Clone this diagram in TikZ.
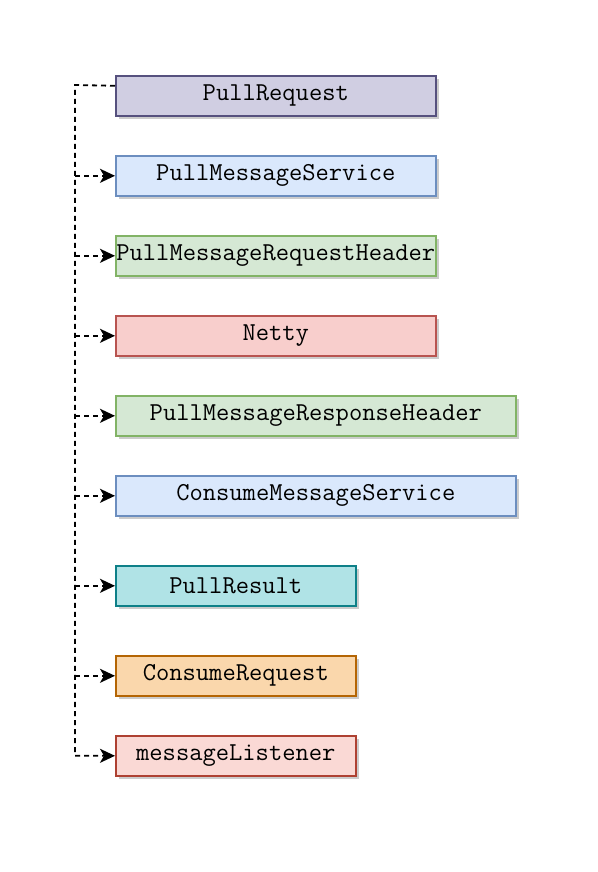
\documentclass[tikz,border=0pt]{standalone}
\usepackage{fontspec}
\usetikzlibrary{arrows.meta,positioning,shadows,calc}
\definecolor{prfill}{HTML}{D0CEE2}\definecolor{prline}{HTML}{56517E}
\definecolor{bluefill}{HTML}{DAE8FC}\definecolor{blueline}{HTML}{6C8EBF}
\definecolor{greenfill}{HTML}{D5E8D4}\definecolor{greenline}{HTML}{82B366}
\definecolor{redfill}{HTML}{F8CECC}\definecolor{redline}{HTML}{B85450}
\definecolor{tealfill}{HTML}{B0E3E6}\definecolor{tealline}{HTML}{0E8088}
\definecolor{orangefill}{HTML}{FAD7AC}\definecolor{orangeline}{HTML}{B46504}
\definecolor{pinkfill}{HTML}{FAD9D5}\definecolor{pinkline}{HTML}{AE4132}

\begin{document}
\begin{tikzpicture}[x=0.5pt,y=-0.5pt,
    cls/.style={draw, line width=0.8pt, inner sep=0pt, anchor=north west,
        minimum width=160pt, minimum height=20pt,
        font=\ttfamily\fontsize{12.9}{14}\selectfont,
        drop shadow={shadow xshift=1.5pt, shadow yshift=-1.8pt, opacity=0.2, fill=black}},
    wide/.style={minimum width=200pt},
    short/.style={minimum width=120pt},
    link/.style={dashed, dash pattern=on 2.5pt off 2pt, line width=0.9pt, -{Stealth[length=7.5pt,width=7pt,inset=2pt]}}]
    \useasboundingbox (0,0) rectangle (598,872);
    % classes, top to bottom
    \node[cls, fill=prfill, draw=prline] (pr) at (115,75) {PullRequest};
    \node[cls, fill=bluefill, draw=blueline] (pms) at (115,155) {PullMessageService};
    \node[cls, fill=greenfill, draw=greenline] (pmrh) at (115,235) {PullMessageRequestHeader};
    \node[cls, fill=redfill, draw=redline] (netty) at (115,315) {Netty};
    \node[cls, wide, fill=greenfill, draw=greenline] (pmresp) at (115,395) {PullMessageResponseHeader};
    \node[cls, wide, fill=bluefill, draw=blueline] (cms) at (115,475) {ConsumeMessageService};
    \node[cls, short, fill=tealfill, draw=tealline] (pres) at (115,565) {PullResult};
    \node[cls, short, fill=orangefill, draw=orangeline] (creq) at (115,655) {ConsumeRequest};
    \node[cls, short, fill=pinkfill, draw=pinkline] (ml) at (115,735) {messageListener};
    % dashed trunk on the left
    \coordinate (top) at (75,85);
    \draw[link] ([yshift=5pt]pr.west) -- (top) |- (ml.west);
    \foreach \n in {pms,pmrh,netty,pmresp,cms,pres,creq}
        \draw[link] (top |- \n.west) -- (\n.west);
\end{tikzpicture}
\end{document}
